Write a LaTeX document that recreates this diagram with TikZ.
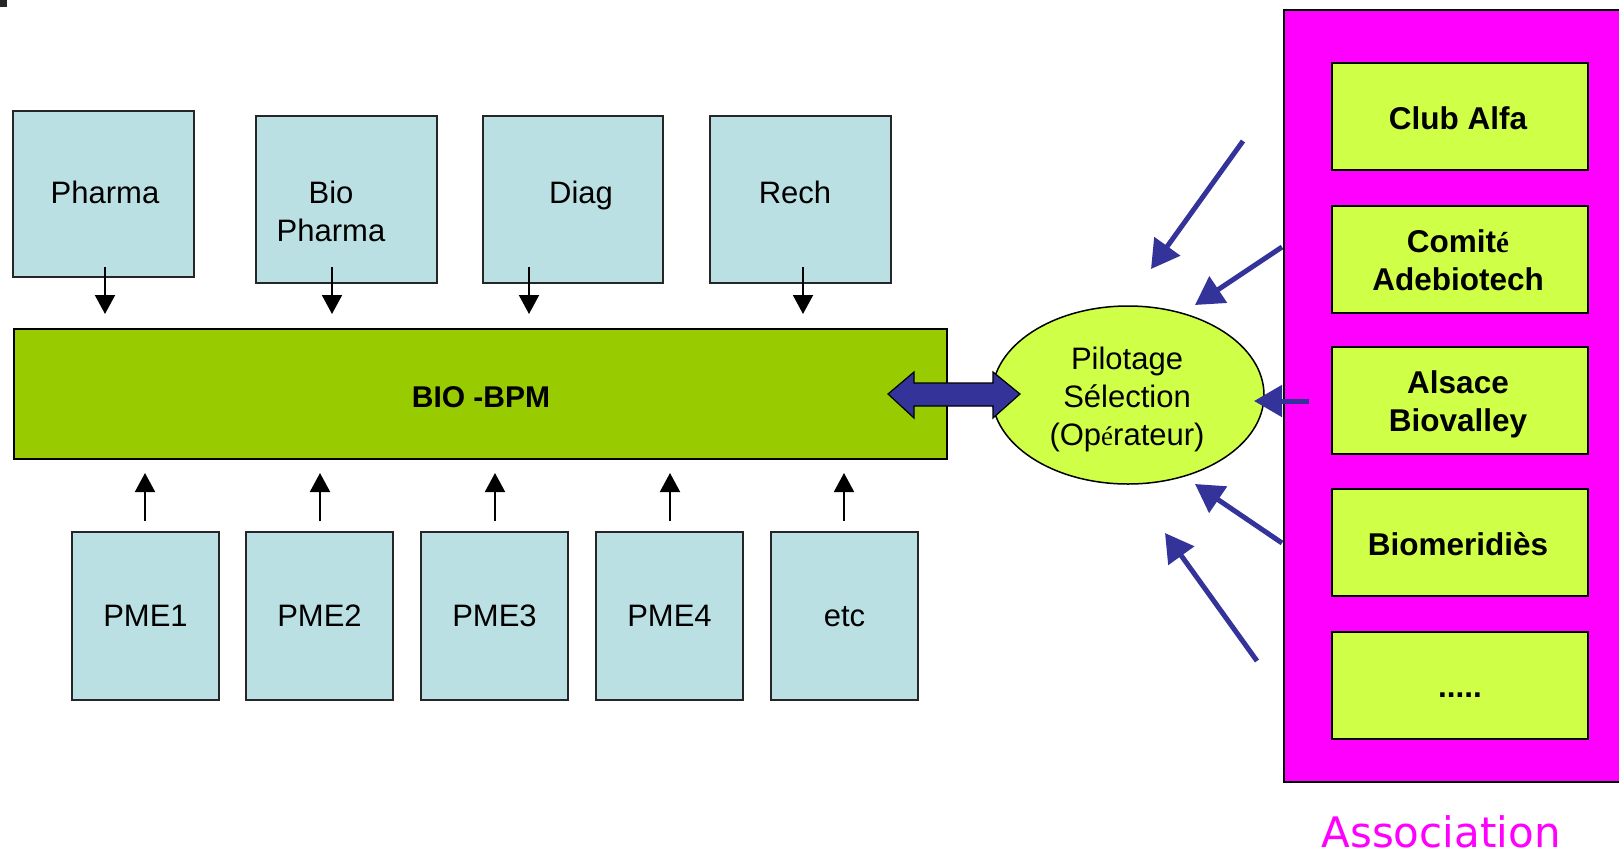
\documentclass[tikz,border=0pt]{standalone}
\usepackage{fontspec}
\setmainfont{Liberation Sans}
\newfontfamily\dejavu{DejaVu Sans}
\newfontfamily\serifE{Liberation Serif}
\usetikzlibrary{arrows.meta,shapes.geometric}
\definecolor{boxblue}{HTML}{BBE0E3}
\definecolor{bpmgreen}{HTML}{99CC00}
\definecolor{limefill}{HTML}{D0FF48}
\definecolor{arrowblue}{HTML}{333399}
\definecolor{assocmag}{HTML}{FF00FF}
\tikzset{
  bluebox/.style={draw=black!85, line width=2pt, fill=boxblue, inner sep=0pt, minimum width=#1},
  bluebox/.default=147pt,
  limebox/.style={draw=black, line width=2pt, fill=limefill, inner sep=0pt, minimum width=256pt, minimum height=107pt},
  txt/.style={inner sep=0pt, anchor=base, font=\fontsize{31}{38}\selectfont},
  btxt/.style={inner sep=0pt, anchor=base, font=\bfseries\fontsize{31.5}{38}\selectfont},
  mtxt/.style={inner sep=0pt, align=center, anchor=center, font=\fontsize{31}{38}\selectfont},
  mbtxt/.style={inner sep=0pt, align=center, anchor=center, font=\bfseries\fontsize{31.5}{38}\selectfont},
  smallarrow/.style={black, line width=2pt, -{Triangle[length=19pt,width=20pt]}},
  bluearrow/.style={arrowblue, line width=5pt, -{Triangle[length=28pt,width=31pt]}},
}
\begin{document}
\begin{tikzpicture}[x=1pt,y=-1pt]
\useasboundingbox (0,0) rectangle (1619,854);
\fill[white] (0,0) rectangle (1619,854);
\fill[black!85] (0,0) rectangle (7,7);

% top boxes
\node[bluebox=181pt, minimum height=166pt] (pharma) at (103.5,194) {};
\node[bluebox=181pt, minimum height=167pt] (biopharma) at (346.5,199.5) {};
\node[bluebox=180pt, minimum height=167pt] (diag) at (573,199.5) {};
\node[bluebox=181pt, minimum height=167pt] (rech) at (800.5,199.5) {};
\node[txt] (tpharma) at (105,203) {Pharma};
\node[mtxt] (tbiopharma) at (331,214.4) {\strut Bio\\\strut Pharma};
\node[txt] (tdiag) at (581,203) {Diag};
\node[txt] (trech) at (795,203) {Rech};

% central bar
\node[draw=black, line width=2pt, fill=bpmgreen, inner sep=0pt, minimum width=933pt, minimum height=130pt] (bpm) at (480,394) {};
\node[btxt, font=\bfseries\fontsize{30}{36}\selectfont] (tbpm) at (481,407) {BIO -BPM};

% bottom boxes
\foreach \n/\x/\t in {pme1/145.5/PME1, pme2/319.5/PME2, pme3/494.5/PME3, pme4/669.5/PME4, etc/844.5/etc}{
  \node[bluebox, minimum height=168pt] (\n) at (\x,616) {};
  \node[txt] (t\n) at (\x,626) {\t};
}

% small arrows down
\foreach \n/\x in {a/105, b/332, c/529, d/803}{
  \coordinate (ds\n) at (\x,267);
  \coordinate (de\n) at (\x,314);
  \draw[smallarrow] (ds\n) -- (de\n);
}
% small arrows up
\foreach \n/\x in {a/145, b/320, c/495, d/670, e/844}{
  \coordinate (us\n) at (\x,521);
  \coordinate (ue\n) at (\x,473);
  \draw[smallarrow] (us\n) -- (ue\n);
}

% ellipse
\node[ellipse, draw=black, line width=1.5pt, fill=limefill, inner sep=0pt, minimum width=272pt, minimum height=178pt] (pilot) at (1128,395) {};
\node[mtxt] (tpilot) at (1127,399.4) {\strut Pilotage\\\strut Sélection\\\strut (Op{\serifE\fontsize{27}{30}\selectfont é}rateur)};

% double block arrow between bar and ellipse
\draw[fill=arrowblue, draw=black, line width=1.2pt]
  (888,394) -- (914,372) -- (914,383) -- (993,383) -- (993,372) -- (1020,394)
  -- (993,418) -- (993,406) -- (914,406) -- (914,418) -- cycle;

% association container
\node[draw=black, line width=2.5pt, fill=assocmag, inner sep=0pt, minimum width=346pt, minimum height=772pt] (assoc) at (1457,396) {};
\node[limebox] (club) at (1460,116.5) {};
\node[limebox] (comite) at (1460,259) {};
\node[limebox] (alsace) at (1460,400.5) {};
\node[limebox] (biomer) at (1460,542.5) {};
\node[limebox] (dots) at (1460,685) {};
\node[btxt] (tclub) at (1458,129) {Club Alfa};
\node[mbtxt] (tcomite) at (1458,263.4) {\strut Comit{\serifE\bfseries\fontsize{29}{30}\selectfont é}\\\strut Adebiotech};
\node[mbtxt] (talsace) at (1458,404.4) {\strut Alsace\\\strut Biovalley};
\node[btxt] (tbiomer) at (1458,555) {Biomeridiès};
\node[btxt] (tdots) at (1460,697) {.....};
\node[inner sep=0pt, anchor=base, font=\dejavu\fontsize{42}{50}\selectfont, text=assocmag] (tassoc) at (1441,847) {Association};

% blue arrows toward the ellipse
\coordinate (b1s) at (1243,141); \coordinate (b1e) at (1151,269);
\coordinate (b2s) at (1282,247); \coordinate (b2e) at (1195,305);
\coordinate (b3s) at (1309,401); \coordinate (b3e) at (1254,401);
\coordinate (b4s) at (1282,543); \coordinate (b4e) at (1195,484);
\coordinate (b5s) at (1257,661); \coordinate (b5e) at (1165,533);
\foreach \i in {1,...,5}{ \draw[bluearrow] (b\i s) -- (b\i e); }
\end{tikzpicture}
\end{document}
